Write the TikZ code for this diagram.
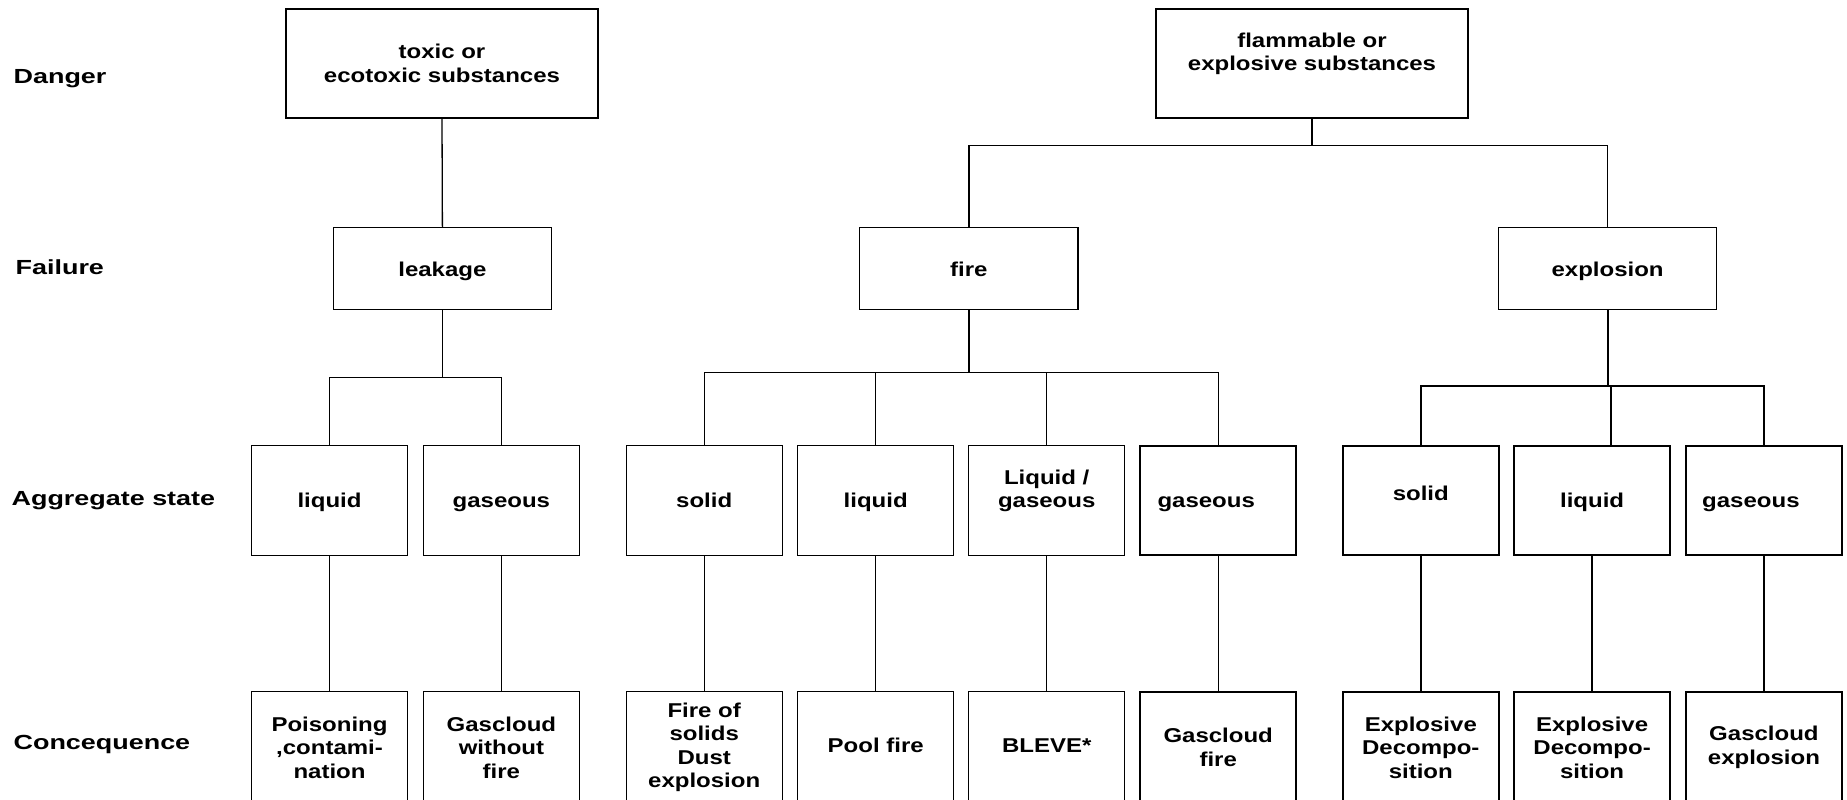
\documentclass[tikz,border=0pt]{standalone}
\usepackage{fontspec}
\setmainfont{Liberation Sans}
\newfontfamily\boxfont{Liberation Sans}[FakeStretch=1.2]
\newfontfamily\labfont{Liberation Sans}[FakeStretch=1.32]
\begin{document}
\begin{tikzpicture}[x=0.5pt,y=-0.5pt,
  line width=0.65pt,
  box/.style={draw, line width=0.65pt, inner sep=0pt, align=center,
    font=\boxfont\bfseries\fontsize{10pt}{11.75pt}\selectfont},
  one/.style={text height=7.4pt, text depth=0pt},
  raised/.style={text height=4.8pt, text depth=0pt},
  topbox/.style={box, minimum width=156pt, minimum height=54.5pt},
  failbox/.style={box, one, minimum width=109.2pt, minimum height=41pt},
  aggbox/.style={box, minimum width=78pt, minimum height=54.8pt},
  conbox/.style={box, minimum width=78pt, minimum height=55.65pt},
  heavy/.style={line width=1pt},
  rowlabel/.style={anchor=base west, inner sep=0pt,
    font=\labfont\bfseries\fontsize{10.2pt}{12pt}\selectfont}]
\useasboundingbox (0,0) rectangle (1847,799);

% row labels
\node[rowlabel] (lDanger) at (13,83.3) {Danger};
\node[rowlabel] (lFailure) at (15,274) {Failure};
\node[rowlabel] (lAgg) at (11,505.5) {Aggregate state};
\node[rowlabel] (lCons) at (13,749.6) {Concequence};

% danger
\node[topbox] (toxic) at (442,63.5) {toxic or\\ecotoxic substances};
\node[topbox] (flam) at (1312,63.5) {flammable or\\explosive substances\\~};

% failure
\node[failbox] (leak) at (442.4,268.7) {leakage};
\node[failbox] (fire) at (968.9,268.7) {fire};
\node[failbox] (expl) at (1607.6,268.7) {explosion};

% aggregate state
\node[aggbox, one] (aliq) at (329.5,500.5) {liquid};
\node[aggbox, one] (agas) at (501.4,500.5) {gaseous};
\node[aggbox, one] (fsol) at (704.2,500.5) {solid};
\node[aggbox, one] (fliq) at (875.7,500.5) {liquid};
\node[aggbox] (flg)  at (1046.7,500.5) {Liquid /\\gaseous\\~};
\node[aggbox, one, heavy] (fgas) at (1218.2,500.5) {gaseous\kern12pt};
\node[aggbox, heavy] (esol) at (1420.8,500.5) {solid\\[-4pt]~};
\node[aggbox, one, heavy] (eliq) at (1592.1,500.5) {liquid};
\node[aggbox, one, heavy] (egas) at (1763.9,500.5) {gaseous\kern13pt};

% consequence
\node[conbox] (caliq) at (329.5,747.35) {Poisoning\\,contami-\\nation};
\node[conbox] (cagas) at (501.4,747.35) {Gascloud\\without\\fire};
\node[conbox] (cfsol) at (704.2,747.35) {Fire of\\solids\\Dust\\explosion};
\node[conbox, raised] (cfliq) at (875.7,747.35) {Pool fire};
\node[conbox, raised] (cflg)  at (1046.7,747.35) {BLEVE*};
\node[conbox, heavy] (cfgas) at (1218.2,747.35) {Gascloud\\fire};
\node[conbox, heavy] (cesol) at (1420.8,747.35) {Explosive\\Decompo-\\sition};
\node[conbox, heavy] (celiq) at (1592.1,747.35) {Explosive\\Decompo-\\sition};
\node[conbox, heavy] (cegas) at (1763.9,747.35) {Gascloud\\explosion};

% bus coordinates
\coordinate (lbus) at (442.4,377.3);
\coordinate (mbus) at (1312,145.3);
\coordinate (fbus) at (968.9,372.3);
\coordinate (fmid) at (968.9,336.7);
\coordinate (ebus) at (1607.6,386);
\coordinate (emid) at ([xshift=9.5pt]eliq.north);

% toxic branch
\draw (toxic.south) -- (leak.north);
\draw (leak.south) -- (lbus);
\draw (aliq.north) |- (lbus) -| (agas.north);

% flammable branch
\draw (flam.south) -- (mbus);
\draw (fire.north) |- (mbus) -| (expl.north);

% fire branch
\draw (fire.south) -- (fmid);
\draw[heavy] (fmid) -- (fbus);
\draw (fsol.north) |- (fbus) -| (fgas.north);
\draw (fliq.north) -- (fliq.north |- fbus);
\draw (flg.north) -- (flg.north |- fbus);

% explosion branch
\draw[heavy] (expl.south) -- (ebus);
\draw[heavy] (esol.north) |- (ebus) -| (egas.north);
\draw[heavy] (emid) -- (emid |- ebus);

% aggregate to consequence
\draw (aliq.south) -- (caliq.north);
\draw (agas.south) -- (cagas.north);
\draw (fsol.south) -- (cfsol.north);
\draw (fliq.south) -- (cfliq.north);
\draw (flg.south) -- (cflg.north);
\draw (fgas.south) -- (cfgas.north);
\draw[heavy] (esol.south) -- (cesol.north);
\draw[heavy] (eliq.south) -- (celiq.north);
\draw[heavy] (egas.south) -- (cegas.north);
\end{tikzpicture}
\end{document}
